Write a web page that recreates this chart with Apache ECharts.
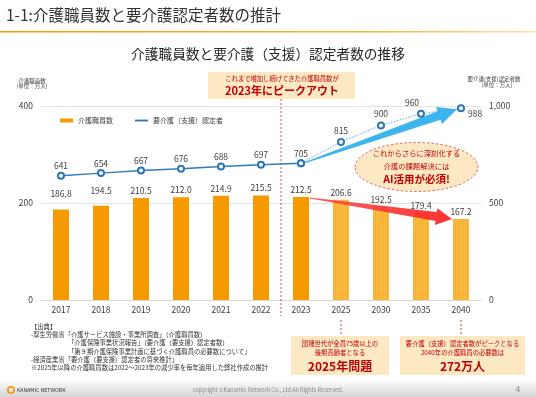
<!DOCTYPE html>
<html>
<head>
<meta charset="utf-8">
<script src="https://cdn.jsdelivr.net/npm/echarts@6/dist/echarts.min.js"></script>
<style>
html,body{margin:0;padding:0;background:#fff;}
#c{width:536px;height:397px;}
</style>
</head>
<body>
<div id="c"></div>
<script>
const categories = ['2017','2018','2019','2020','2021','2022','2023','2025','2030','2035','2040'];
const staffValues = [186.8,194.5,210.5,212.0,214.9,215.5,212.5,206.6,192.5,179.4,167.2];
const certifiedValues = [641,654,667,676,688,697,705,815,900,960,988];
const leftTicks = [0,200,400];
const rightTicks = [0,500,1000];
const lastActualIndex = 6;
const seriesNames = ['介護職員数','要介護（支援）認定者'];

const FONT = "'Noto Sans CJK JP','Noto Sans',sans-serif";
const RED = '#C00000';
const BOX = '#FCE9C4';
const chart = echarts.init(document.getElementById('c'), null, {renderer:'canvas'});

const barData = staffValues.map((v,i)=>{
  const item = {value:v};
  if (i > lastActualIndex) {
    item.itemStyle = {color:'#F8B02E', decal:{symbol:'rect', symbolSize:1, color:'rgba(255,220,140,0.55)', dashArrayX:[1,1], dashArrayY:[1,1]}};
  }
  if (i < 2) item.label = {offset:[0,-8]};
  return item;
});
const actualLine = certifiedValues.map((v,i)=> i<=lastActualIndex ? v : '-');
const projLine = certifiedValues.map((v,i)=>{
  if (i < lastActualIndex) return '-';
  const item = {value:v};
  if (i === lastActualIndex) item.label = {show:false};
  if (i === 9) item.label = {offset:[-9,0]};
  if (i === 10) item.label = {position:'right', distance:3, offset:[0,5]};
  return item;
});

chart.setOption({
  animation:false,
  textStyle:{fontFamily:FONT},
  grid:{left:41, right:55, top:106, bottom:97},
  legend:{
    left:55, top:112, itemWidth:13, itemHeight:4, itemGap:22,
    textStyle:{fontSize:7, color:'#404040', fontFamily:FONT},
    data:[{name:seriesNames[0], icon:'rect'},{name:seriesNames[1], icon:'path://M0 0H14V2H0Z'}]
  },
  xAxis:{
    type:'category', data:categories,
    axisLine:{lineStyle:{color:'#D9D9D9'}}, axisTick:{show:false},
    axisLabel:{color:'#404040', fontSize:8.5, margin:6, fontFamily:FONT}
  },
  yAxis:[
    {type:'value', min:leftTicks[0], max:leftTicks[leftTicks.length-1], interval:leftTicks[1]-leftTicks[0],
     axisLabel:{color:'#404040', fontSize:8.5, margin:8}, splitLine:{lineStyle:{color:'#E3E3E3'}},
     axisLine:{show:false}, axisTick:{show:false}},
    {type:'value', min:rightTicks[0], max:rightTicks[rightTicks.length-1], interval:rightTicks[1]-rightTicks[0],
     axisLabel:{color:'#404040', fontSize:8.5, margin:8}, splitLine:{show:false},
     axisLine:{show:false}, axisTick:{show:false}}
  ],
  series:[
    {name:seriesNames[0], type:'bar', data:barData, barWidth:16, z:2,
     itemStyle:{color:'#F59A00'},
     label:{show:true, position:'top', distance:3, color:'#404040', fontSize:8.5, formatter:p=>Number(p.value).toFixed(1)}},
    {name:seriesNames[1], type:'line', yAxisIndex:1, data:actualLine, z:4,
     symbol:'emptyCircle', symbolSize:6, lineStyle:{color:'#2E7BC4', width:1.5},
     itemStyle:{color:'#2E75B6', borderWidth:1.5},
     label:{show:true, position:'top', distance:1.5, color:'#404040', fontSize:8.5}},
    {name:'proj', type:'line', yAxisIndex:1, data:projLine, z:4,
     symbol:'emptyCircle', symbolSize:6, lineStyle:{color:'#5AA8E8', width:1, type:[1.5,1.5]},
     itemStyle:{color:'#2E75B6', borderWidth:1.5},
     label:{show:true, position:'top', distance:3, color:'#404040', fontSize:8.5}}
  ]
});

function arrow(p0, p1, w0, w1, hw, h){
  const dx=p1[0]-p0[0], dy=p1[1]-p0[1], L=Math.hypot(dx,dy);
  const ux=dx/L, uy=dy/L, nx=-uy, ny=ux;
  const bx=p1[0]-ux*h, by=p1[1]-uy*h;
  return [
    [p0[0]+nx*w0, p0[1]+ny*w0],
    [bx+nx*w1, by+ny*w1],
    [bx+nx*hw, by+ny*hw],
    [p1[0], p1[1]],
    [bx-nx*hw, by-ny*hw],
    [bx-nx*w1, by-ny*w1],
    [p0[0]-nx*w0, p0[1]-ny*w0]
  ];
}

const last = categories.length-1;
const pLine0 = chart.convertToPixel({seriesIndex:1}, [lastActualIndex, certifiedValues[lastActualIndex]]);
const pLine1 = chart.convertToPixel({seriesIndex:2}, [last, certifiedValues[last]]);
const pBar0 = chart.convertToPixel({seriesIndex:0}, [lastActualIndex, staffValues[lastActualIndex]]);
const pBar1 = chart.convertToPixel({seriesIndex:0}, [last, staffValues[last]]);
const x2022 = chart.convertToPixel({xAxisIndex:0}, lastActualIndex-1);
const x2023 = chart.convertToPixel({xAxisIndex:0}, lastActualIndex);
const xDiv = (x2022 + x2023)/2;
const x2025 = chart.convertToPixel({xAxisIndex:0}, lastActualIndex+1);
const x2040 = chart.convertToPixel({xAxisIndex:0}, last);

function txt(text, x, y, size, color, opts){
  opts = opts || {};
  return {type:'text', x:x, y:y, z:opts.z||10, style:{text:text, fill:color, fontSize:size, fontFamily:FONT,
    fontWeight:opts.bold?'bold':'normal', align:opts.align||'center', verticalAlign:'middle',
    textAlign:opts.align||'center', textVerticalAlign:'middle', lineHeight:opts.lh}};
}

const g = [];
// header
g.push(txt('1-1:介護職員数と要介護認定者数の推計', 6, 15, 15.5, '#333333', {align:'left'}));
g.push({type:'rect', shape:{x:0, y:31, width:536, height:1.6}, z:1,
  style:{fill:new echarts.graphic.LinearGradient(0,0,1,0,[{offset:0,color:'#EFA000'},{offset:0.7,color:'#F4B640'},{offset:1,color:'#FBE2B0'}])}});
g.push(txt('介護職員数と要介護（支援）認定者数の推移', 268, 54, 13.7, '#262626'));
// axis names
g.push(txt('介護職員数', 32, 80.5, 5.5, '#404040'));
g.push(txt('(単位：万人)', 32, 86, 5.5, '#404040'));
g.push(txt('要介護(支援)認定者数', 494, 79, 5.5, '#404040'));
g.push(txt('(単位：万人)', 497, 85, 5.5, '#404040'));
// peak box
g.push({type:'rect', shape:{x:208, y:72, width:147, height:27}, z:3, style:{fill:BOX}});
g.push(txt('これまで増加し続けてきた介護職員数が', 282, 78.5, 6.3, RED));
g.push(txt('2023年にピークアウト', 282, 90.5, 11, RED, {bold:true}));
// divider
g.push({type:'line', shape:{x1:xDiv, y1:99, x2:xDiv, y2:316}, z:3, style:{stroke:'#D46A6A', lineWidth:1.2, lineDash:[2,2]}});
// arrows
g.push({type:'polygon', z:1, shape:{points:arrow([pLine0[0]+2,pLine0[1]],[pLine1[0]-4,pLine1[1]+1],0.5,4.5,9,19)},
  style:{fill:'#3CB5EE'}});
g.push({type:'polygon', z:5, shape:{points:arrow([pBar0[0]+9,pBar0[1]+1],[pBar1[0]-9,pBar1[1]],0.5,4.5,8.5,16)},
  style:{fill:new echarts.graphic.LinearGradient(0,0,1,0,[{offset:0,color:'rgba(245,70,70,0.85)'},{offset:1,color:'rgba(250,40,40,0.95)'}])}});
// ellipse
g.push({type:'ellipse', z:6, shape:{cx:416.5, cy:167, rx:61.5, ry:24.5}, style:{fill:BOX, stroke:'#E06A6A', lineWidth:1, lineDash:[2.5,2]}});
g.push(txt('これからさらに深刻化する', 416.5, 153, 7.3, RED, {z:7}));
g.push(txt('介護の課題解決には', 416.5, 166, 7.3, RED, {z:7}));
g.push(txt('AI活用が必須!', 416.5, 179, 10.5, RED, {bold:true, z:7}));
// bottom connectors
g.push({type:'line', shape:{x1:x2025, y1:320, x2:x2025, y2:334}, z:3, style:{stroke:'#D46A6A', lineWidth:1.2, lineDash:[2,2]}});
g.push({type:'line', shape:{x1:x2040, y1:320, x2:x2040, y2:334}, z:3, style:{stroke:'#D46A6A', lineWidth:1.2, lineDash:[2,2]}});
// bottom boxes
g.push({type:'rect', shape:{x:291, y:336, width:98, height:39}, z:3, style:{fill:BOX}});
g.push(txt('団塊世代が全員75歳以上の', 340, 343.5, 6.3, RED));
g.push(txt('後期高齢者となる', 340, 352.7, 6.3, RED));
g.push(txt('2025年問題', 340, 366.5, 12, RED, {bold:true}));
g.push({type:'rect', shape:{x:400, y:336, width:125, height:39}, z:3, style:{fill:BOX}});
g.push(txt('要介護（支援）認定者数がピークとなる', 462.5, 343.5, 6.3, RED));
g.push(txt('2040年の介護職員の必要数は', 462.5, 352.7, 6.3, RED));
g.push(txt('272万人', 462.5, 366.5, 12, RED, {bold:true}));
// sources
const src = [
  ['【出典】',31],
  ['-厚生労働省「介護サービス施設・事業所調査」（介護職員数）',31],
  ['「介護保険事業状況報告」（要介護（要支援）認定者数）',68],
  ['「第９期介護保険事業計画に基づく介護職員の必要数について」',68],
  ['-経済産業省「要介護（要支援）認定者の将来推計」',31],
  ['※2025年以降の介護職員数は2022～2023年の減少率を毎年適用した弊社作成の推計',31]
];
src.forEach((s,i)=> g.push(txt(s[0], s[1], 326.5 + i*8.3, 6.3, '#333333', {align:'left'})));
// footer
g.push({type:'rect', shape:{x:0, y:381, width:536, height:16}, z:0,
  style:{fill:new echarts.graphic.LinearGradient(0,0,0,1,[{offset:0,color:'#FAFAFA'},{offset:1,color:'#D6D6D6'}])}});
g.push({type:'circle', shape:{cx:11, cy:390, r:3.2}, z:2, style:{fill:'none', stroke:'#F29A1E', lineWidth:1.8}});
g.push(txt('KANAMIC NETWORK', 17, 390, 5.2, '#333333', {align:'left'}));
g.push(txt('copyright ©Kanamic Network Co., Ltd All Rights Reserved.', 268, 389.5, 5.6, '#8C8C8C'));
g.push(txt('4', 518, 388.5, 8, '#7F7F7F'));

chart.setOption({graphic:{elements:g}});
</script>
</body>
</html>
